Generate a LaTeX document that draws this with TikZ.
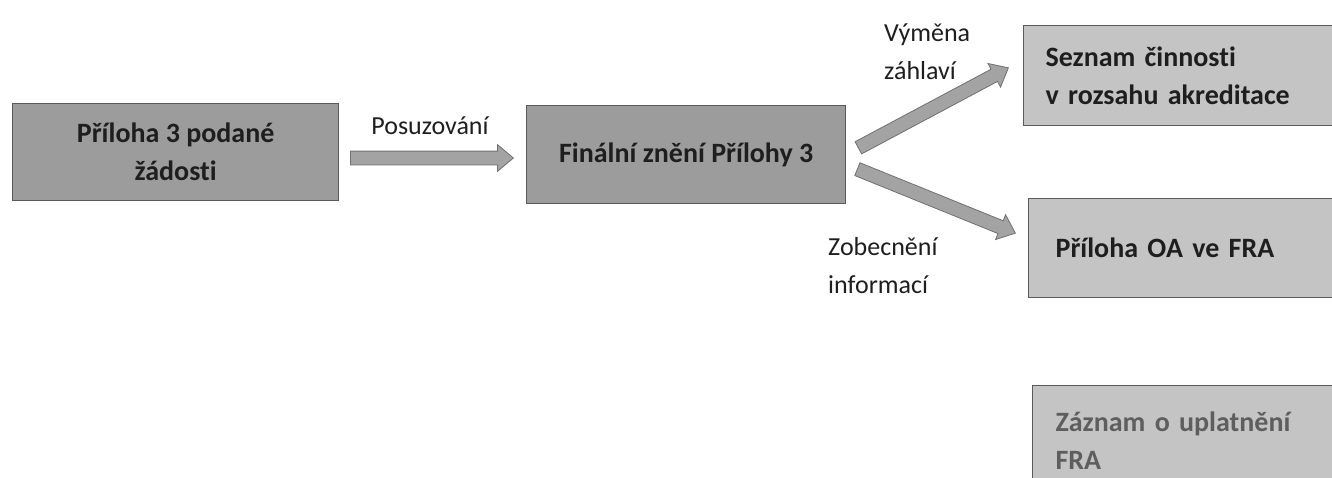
\documentclass[tikz,border=0pt]{standalone}
\usepackage{fontspec}
\setmainfont{Carlito}[Ligatures=NoCommon]
\usetikzlibrary{shapes.arrows,calc}
\definecolor{darkboxc}{HTML}{9C9C9C}
\definecolor{lightboxc}{HTML}{C4C4C4}
\definecolor{edgec}{HTML}{5A5A5A}
\definecolor{arrowfillc}{HTML}{A3A3A3}
\definecolor{arrowedgec}{HTML}{707070}
\definecolor{txtc}{HTML}{1E1E1E}
\definecolor{fadedtxtc}{HTML}{5E5E5E}
\tikzset{
 boxbase/.style={draw=edgec, line width=1.2pt, rectangle, anchor=north west, inner ysep=0pt, font=\bfseries\fontsize{28}{38}\selectfont, text=txtc},
 darkbox/.style={boxbase, fill=darkboxc, align=center, inner xsep=0pt},
 lightbox/.style={boxbase, fill=lightboxc, align=left},
 lbl/.style={font=\fontsize{26}{38}\selectfont, text=txtc, align=left, inner sep=0pt},
 barrow/.style={single arrow, draw=arrowedgec, fill=arrowfillc, line width=0.8pt, inner xsep=0pt, inner ysep=6.5pt, text height=0pt, text depth=0pt, single arrow head extend=6.5pt, single arrow tip angle=80, anchor=tail},
}
\newcommand\blockarrow[2]{\path let \p1=(#1), \p2=(#2), \n1={atan2(\y2-\y1,\x2-\x1)}, \n2={veclen(\x2-\x1,\y2-\y1)} in node[barrow, rotate=\n1, minimum height=\n2] at (#1) {};}
\begin{document}
\begin{tikzpicture}[x=1pt,y=-1pt]
\useasboundingbox (0,0) rectangle (1332,477);
% boxes
\node[darkbox, minimum width=326pt, minimum height=97pt] (b1) at (12,103) {Příloha 3 podané\\žádosti};
\node[darkbox, minimum width=319pt, minimum height=98pt] (b2) at (526,105) {Finální znění Přílohy 3};
\node[lightbox, inner xsep=22pt, text width=296pt, minimum height=100pt] (b3) at (1023,25) {Seznam činnosti\\v rozsahu akreditace};
\node[lightbox, inner xsep=27pt, text width=290pt, minimum height=99pt] (b4) at (1028,198) {Příloha OA ve FRA};
\node[lightbox, inner xsep=23pt, text width=290pt, minimum height=110pt, text=fadedtxtc] (b5) at (1032,385) {Záznam o uplatnění\\FRA};
% arrow end points
\coordinate (p1s) at (350,158);
\coordinate (p1e) at (513,158);
\coordinate (u1s) at (858,148);
\coordinate (u1e) at (1008,68);
\coordinate (d1s) at (857,169);
\coordinate (d1e) at (1015,233);
\blockarrow{p1s}{p1e}
\blockarrow{u1s}{u1e}
\blockarrow{d1s}{d1e}
% labels
\node[lbl, anchor=center] (l1) at (430,126) {Posuzování};
\node[lbl, anchor=west] (l2) at (884,52) {Výměna\\záhlaví};
\node[lbl, anchor=west] (l3) at (828,266) {Zobecnění\\informací};
\end{tikzpicture}
\end{document}
